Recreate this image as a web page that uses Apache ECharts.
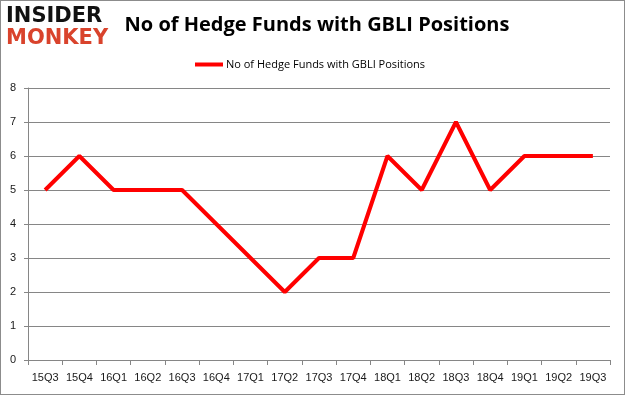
<!DOCTYPE html>
<html><head><meta charset="utf-8">
<script src="https://cdn.jsdelivr.net/npm/echarts@6/dist/echarts.min.js"></script>
<style>html,body{margin:0;padding:0;background:#fff}#c{width:625px;height:395px;box-sizing:border-box;border:1px solid #8c8c8c}</style>
</head><body><div id="c"></div>
<script>
const categories = ['15Q3','15Q4','16Q1','16Q2','16Q3','16Q4','17Q1','17Q2','17Q3','17Q4','18Q1','18Q2','18Q3','18Q4','19Q1','19Q2','19Q3'];
const funds = [5,6,5,5,5,4,3,2,3,3,6,5,7,5,6,6,6];
const seriesName = 'No of Hedge Funds with GBLI Positions';
const chart = echarts.init(document.getElementById('c'));
chart.setOption({
  animation: false,
  title: {
    text: 'No of Hedge Funds with GBLI Positions',
    left: 311, top: 9, textAlign: 'center',
    textStyle: {fontFamily: 'Open Sans', fontWeight: 'bold', fontSize: 20, color: '#000'}
  },
  legend: {
    data: [seriesName], top: 53, left: 189,
    itemWidth: 28, itemHeight: 4, itemGap: 4,
    icon: 'rect',
    textStyle: {fontFamily: 'Open Sans', fontSize: 11, color: '#000', padding: [0,0,0,-2]}
  },
  graphic: [
    {type: 'text', left: 5, top: 5, style: {text: 'INSIDER', font: '900 21px "DejaVu Sans"', fill: '#111'}},
    {type: 'text', left: 5, top: 27, style: {text: 'MONKEY', font: '900 21px "DejaVu Sans"', fill: '#d9432c'}}
  ],
  grid: {left: 27, right: 14, top: 87, bottom: 34},
  xAxis: {
    type: 'category', data: categories, boundaryGap: true,
    axisLine: {lineStyle: {color: '#868686'}},
    axisTick: {show: true, length: 5, lineStyle: {color: '#868686'}},
    axisLabel: {color: '#1a1a1a', fontFamily: 'Liberation Sans', fontSize: 11, margin: 12, interval: 0}
  },
  yAxis: {
    type: 'value', min: 0, max: 8, interval: 1,
    axisLine: {show: true, lineStyle: {color: '#868686'}},
    axisTick: {show: true, length: 4, lineStyle: {color: '#868686'}},
    splitLine: {lineStyle: {color: '#868686'}},
    axisLabel: {color: '#1a1a1a', fontFamily: 'Liberation Sans', fontSize: 11, margin: 12}
  },
  series: [{
    name: seriesName, type: 'line', data: funds,
    symbol: 'none', lineStyle: {color: '#ff0000', width: 4}, itemStyle: {color: '#ff0000'}
  }]
});
</script></body></html>
